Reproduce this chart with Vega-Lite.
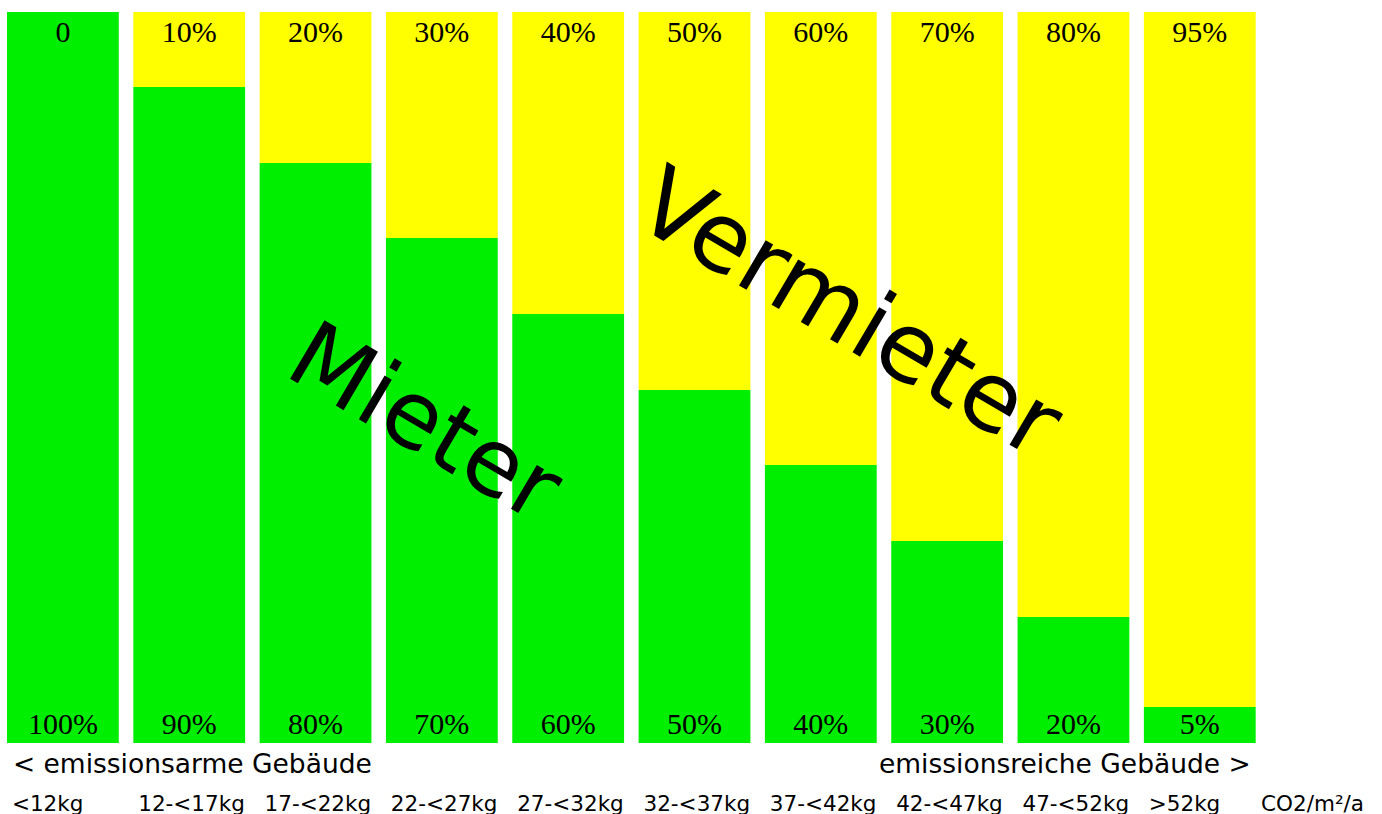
{
  "$schema": "https://vega.github.io/schema/vega-lite/v6.json",
  "width": 1375,
  "height": 731,
  "padding": {"left": 7, "top": 12, "right": 0, "bottom": 71},
  "autosize": {"type": "none"},
  "background": "white",
  "config": {"view": {"stroke": null}},
  "datasets": {
    "bars": [
      {"cat": "<12kg", "share": 100, "mlabel": "100%", "vlabel": "0"},
      {"cat": "12-<17kg", "share": 89.74, "mlabel": "90%", "vlabel": "10%"},
      {"cat": "17-<22kg", "share": 79.34, "mlabel": "80%", "vlabel": "20%"},
      {"cat": "22-<27kg", "share": 69.08, "mlabel": "70%", "vlabel": "30%"},
      {"cat": "27-<32kg", "share": 58.69, "mlabel": "60%", "vlabel": "40%"},
      {"cat": "32-<37kg", "share": 48.29, "mlabel": "50%", "vlabel": "50%"},
      {"cat": "37-<42kg", "share": 38.03, "mlabel": "40%", "vlabel": "60%"},
      {"cat": "42-<47kg", "share": 27.63, "mlabel": "30%", "vlabel": "70%"},
      {"cat": "47-<52kg", "share": 17.24, "mlabel": "20%", "vlabel": "80%"},
      {"cat": ">52kg", "share": 4.92, "mlabel": "5%", "vlabel": "95%"}
    ]
  },
  "encoding": {
    "x": {
      "field": "cat",
      "type": "nominal",
      "sort": null,
      "scale": {
        "domain": ["<12kg", "12-<17kg", "17-<22kg", "22-<27kg", "27-<32kg", "32-<37kg", "37-<42kg", "42-<47kg", "47-<52kg", ">52kg", "CO2/m²/a"],
        "paddingInner": 0.115,
        "paddingOuter": 0
      },
      "axis": {
        "title": null,
        "domain": false,
        "ticks": false,
        "tickSize": 0,
        "labelPadding": 67,
        "labelAlign": "left",
        "labelBaseline": "alphabetic",
        "labelAngle": 0,
        "labelFont": "DejaVu Sans",
        "labelFontSize": 21.5,
        "labelColor": "black",
        "labelOverlap": false,
        "labelBound": false,
        "labelFlush": false,
        "labelLimit": 0,
        "labelOffset": {"condition": {"test": "datum.value === 'CO2/m²/a'", "value": -65}, "value": -51}
      }
    }
  },
  "layer": [
    {
      "data": {"name": "bars"},
      "mark": {"type": "bar", "color": "#00ee00"},
      "encoding": {
        "y": {"field": "share", "type": "quantitative", "scale": {"domain": [0, 100], "nice": false, "zero": true}, "axis": null},
        "y2": {"datum": 0}
      }
    },
    {
      "data": {"name": "bars"},
      "mark": {"type": "bar", "color": "#ffff00"},
      "encoding": {
        "y": {"field": "share", "type": "quantitative", "axis": null},
        "y2": {"datum": 100}
      }
    },
    {
      "data": {"name": "bars"},
      "mark": {"type": "text", "font": "Liberation Serif", "fontSize": 30, "align": "center", "baseline": "alphabetic", "dy": 30, "color": "black"},
      "encoding": {
        "y": {"datum": 100, "type": "quantitative", "axis": null},
        "text": {"field": "vlabel"}
      }
    },
    {
      "data": {"name": "bars"},
      "mark": {"type": "text", "font": "Liberation Serif", "fontSize": 30, "align": "center", "baseline": "alphabetic", "dy": -9, "color": "black"},
      "encoding": {
        "y": {"datum": 0, "type": "quantitative", "axis": null},
        "text": {"field": "mlabel"}
      }
    },
    {
      "data": {"values": [{"cat": "22-<27kg", "pos": 39.67, "t": "Mieter"}]},
      "mark": {"type": "text", "font": "DejaVu Sans", "fontSize": 93, "align": "center", "baseline": "alphabetic", "angle": 30.5, "dx": -30, "dy": 13, "color": "black"},
      "encoding": {
        "y": {"field": "pos", "type": "quantitative", "axis": null},
        "text": {"field": "t"}
      }
    },
    {
      "data": {"values": [{"cat": "37-<42kg", "pos": 52.67, "t": "Vermieter"}]},
      "mark": {"type": "text", "font": "DejaVu Sans", "fontSize": 96, "align": "center", "baseline": "alphabetic", "angle": 30.5, "dx": 2, "dy": -21, "color": "black"},
      "encoding": {
        "y": {"field": "pos", "type": "quantitative", "axis": null},
        "text": {"field": "t"}
      }
    },
    {
      "data": {"values": [{"cat": "<12kg", "pos": -4.1, "t": "< emissionsarme Gebäude"}]},
      "mark": {"type": "text", "font": "DejaVu Sans", "fontSize": 26.5, "align": "left", "baseline": "alphabetic", "dx": -50, "color": "black"},
      "encoding": {
        "y": {"field": "pos", "type": "quantitative", "axis": null},
        "text": {"field": "t"}
      }
    },
    {
      "data": {"values": [{"cat": ">52kg", "pos": -4.1, "t": "emissionsreiche Gebäude >"}]},
      "mark": {"type": "text", "font": "DejaVu Sans", "fontSize": 26.5, "align": "right", "baseline": "alphabetic", "dx": 51, "color": "black"},
      "encoding": {
        "y": {"field": "pos", "type": "quantitative", "axis": null},
        "text": {"field": "t"}
      }
    }
  ]
}
